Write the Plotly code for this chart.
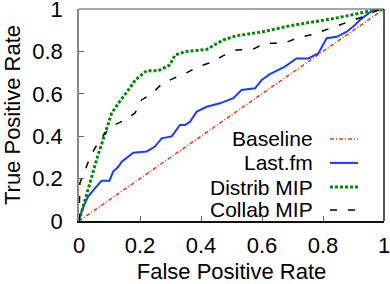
import plotly.graph_objects as go

# Baseline
base_x = [0, 1]
base_y = [0, 1]

# Last.fm (staircase)
lastfm_x = [0, 0.005, 0.014, 0.03, 0.052, 0.074, 0.10, 0.112, 0.129, 0.14, 0.178, 0.222, 0.249, 0.271,
            0.304, 0.315, 0.331, 0.348, 0.364, 0.386, 0.419, 0.462, 0.506, 0.533, 0.577, 0.599, 0.626,
            0.675, 0.713, 0.752, 0.785, 0.812, 0.845, 0.878, 0.899, 0.921, 0.943, 0.964, 1.0]
lastfm_y = [0, 0.03, 0.067, 0.115, 0.154, 0.19, 0.19, 0.233, 0.256, 0.28, 0.322, 0.328, 0.351, 0.39,
            0.399, 0.421, 0.453, 0.453, 0.468, 0.516, 0.539, 0.555, 0.579, 0.618, 0.626, 0.665, 0.693,
            0.728, 0.767, 0.767, 0.791, 0.862, 0.869, 0.893, 0.917, 0.948, 0.972, 0.995, 1.0]

# Distrib MIP
distrib_x = [0, 0.02, 0.06, 0.107, 0.129, 0.178, 0.184, 0.222, 0.26, 0.298, 0.315, 0.348, 0.386,
             0.419, 0.44, 0.473, 0.517, 0.604, 0.692, 0.839, 0.96, 1.0]
distrib_y = [0, 0.10, 0.30, 0.508, 0.555, 0.65, 0.665, 0.709, 0.709, 0.736, 0.783, 0.799, 0.806,
             0.81, 0.827, 0.854, 0.874, 0.893, 0.921, 0.956, 0.992, 1.0]

# Collab MIP
collab_x = [0, 0.003, 0.003, 0.02, 0.036, 0.058, 0.083, 0.112, 0.15, 0.184, 0.205, 0.24, 0.271,
            0.31, 0.35, 0.391, 0.435, 0.473, 0.517, 0.571, 0.61, 0.672, 0.713, 0.768, 0.823, 0.878,
            0.938, 0.98, 1.0]
collab_y = [0, 0.10, 0.18, 0.24, 0.30, 0.358, 0.41, 0.45, 0.476, 0.51, 0.571, 0.602, 0.646,
            0.673, 0.697, 0.728, 0.749, 0.78, 0.807, 0.811, 0.838, 0.838, 0.862, 0.881, 0.909, 0.937,
            0.967, 0.995, 1.0]

tick_vals = [0, 0.2, 0.4, 0.6, 0.8, 1]
tick_text = ["0", "0.2", "0.4", "0.6", "0.8", "1"]

series = [
    ("Baseline", base_x, base_y, dict(color="#ff3010", width=1.5, dash="4px,2px,1px,2px")),
    ("Last.fm", lastfm_x, lastfm_y, dict(color="#1a3cff", width=2)),
    ("Distrib MIP", distrib_x, distrib_y, dict(color="#008a00", width=3, dash="3px,2px")),
    ("Collab MIP", collab_x, collab_y, dict(color="#000000", width=1.5, dash="7px,11px")),
]

FONT = "Liberation Sans, Arial, Helvetica, sans-serif"
FS = 22

fig = go.Figure()
for name, xs, ys, line in series:
    fig.add_trace(go.Scatter(x=xs, y=ys, mode="lines", name=name, line=line, showlegend=False,
                             cliponaxis=False))

# Manual legend (text right, sample to the right)
leg_y = [0.387, 0.274, 0.160, 0.052]
for (name, xs, ys, line), yy in zip(series, leg_y):
    fig.add_annotation(x=0.775, y=yy, xref="paper", yref="paper", text=name, showarrow=False,
                       xanchor="right", yanchor="middle",
                       font=dict(family=FONT, size=21, color="black"))
    fig.add_shape(type="line", xref="paper", yref="paper", x0=0.823, x1=0.915, y0=yy, y1=yy,
                  line=dict(color=line["color"], width=line["width"], dash=line.get("dash", "solid")))

# box edges top/right
fig.add_shape(type="line", xref="paper", yref="paper", x0=0, x1=1, y0=1, y1=1,
              line=dict(color="#888888", width=1.5))
fig.add_shape(type="line", xref="paper", yref="paper", x0=1, x1=1, y0=0, y1=1,
              line=dict(color="#222222", width=1.5))

axis_common = dict(
    range=[0, 1], tickvals=tick_vals, ticktext=tick_text, ticks="inside", ticklen=5,
    tickcolor="#666666", showgrid=False, zeroline=False, showline=True, automargin=False,
    ticklabeloverflow="allow",
    tickfont=dict(family=FONT, size=FS, color="black"),
)
fig.update_xaxes(**axis_common, linecolor="#111111", linewidth=1.5, ticklabelstandoff=4,
                 title=dict(text="False Positive Rate", font=dict(family=FONT, size=FS, color="black"),
                            standoff=10))
fig.update_yaxes(**axis_common, linecolor="#888888", linewidth=1.5, ticklabelstandoff=10,
                 title=dict(text="True Positive Rate", font=dict(family=FONT, size=FS, color="black"),
                            standoff=6))

fig.update_layout(
    width=390, height=284,
    margin=dict(l=79, r=6, t=9, b=63),
    paper_bgcolor="white", plot_bgcolor="white",
    showlegend=False,
)

fig.write_html("out.html", config={"displayModeBar": False},
               post_script="document.body.style.margin='0px';document.body.style.overflow='hidden';")
